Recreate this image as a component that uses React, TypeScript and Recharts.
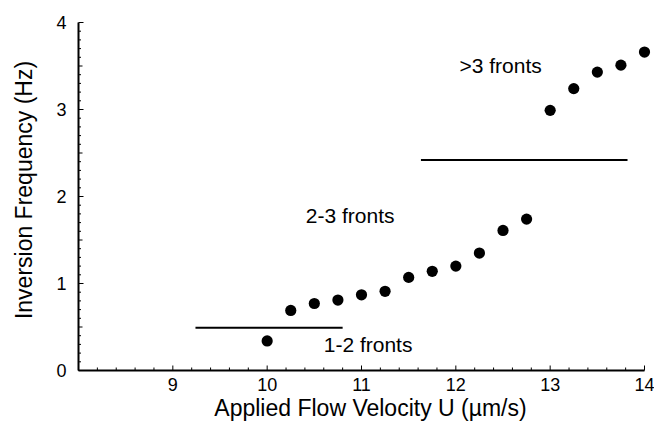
import React from "react";
import { ScatterChart, Scatter, XAxis, YAxis, ReferenceLine } from "recharts";

// applied flow velocity U (um/s) and inversion frequency (Hz)
const velocities = [10, 10.25, 10.5, 10.75, 11, 11.25, 11.5, 11.75, 12, 12.25, 12.5, 12.75, 13, 13.25, 13.5, 13.75, 14];
const frequencies = [0.34, 0.69, 0.77, 0.81, 0.87, 0.91, 1.07, 1.14, 1.2, 1.35, 1.61, 1.74, 2.99, 3.24, 3.43, 3.51, 3.66];

// regime boundaries: [x start, x end, y]
const boundaryLow = [9.24, 10.8, 0.49];
const boundaryHigh = [11.63, 13.82, 2.42];

const regimeLabels = ["1-2 fronts", "2-3 fronts", ">3 fronts"];
const regimeX = [11.07, 10.88, 12.475];
const regimeY = [0.29, 1.78, 3.5];

const xTickLabels = [9, 10, 11, 12, 13, 14];
const yTickLabels = [0, 1, 2, 3, 4];

const FONT = '"Liberation Sans", Arial, Helvetica, sans-serif';

const steps = (from: number, to: number, step: number) => {
  const out: number[] = [];
  for (let i = 0; from + i * step <= to + 1e-9; i++) out.push(Math.round((from + i * step) * 100) / 100);
  return out;
};

const xTicks = steps(8, 14, 0.2);
const yTicks = steps(0, 4, 0.1);

const points = velocities.map((x, i) => ({ x, y: frequencies[i] }));
const notes = regimeLabels.map((text, i) => ({ x: regimeX[i], y: regimeY[i], text }));

const XTick = (props: any) => {
  const { x, y, payload } = props;
  const v = payload.value;
  const major = xTickLabels.includes(v);
  return (
    <g>
      <line x1={x} x2={x} y1={y} y2={y - (major ? 5 : 3)} stroke="#000" strokeWidth={1} />
      {major && (
        <text x={x} y={y + 20.5} textAnchor="middle" fontSize={18} fontFamily={FONT} fill="#000">
          {v}
        </text>
      )}
    </g>
  );
};

const YTick = (props: any) => {
  const { x, y, payload } = props;
  const v = payload.value;
  const major = yTickLabels.includes(v);
  const half = Math.abs(v * 2 - Math.round(v * 2)) < 1e-6;
  const len = major ? 5 : half ? 4 : 2.5;
  return (
    <g>
      <line x1={x} x2={x + len} y1={y} y2={y} stroke="#000" strokeWidth={1} />
      {major && (
        <text x={x - 12} y={y + 6.5} textAnchor="end" fontSize={18} fontFamily={FONT} fill="#000">
          {v}
        </text>
      )}
    </g>
  );
};

const Dot = (props: any) => <circle cx={props.cx} cy={props.cy} r={5.6} fill="#000" />;

const Note = (props: any) => (
  <text x={props.cx} y={props.cy + 7} textAnchor="middle" fontSize={21} fontFamily={FONT} fill="#000">
    {props.payload.text}
  </text>
);

export default function App() {
  return (
    <div style={{ position: "absolute", left: 0, top: 0, width: 654, height: 428, background: "#fff" }}>
      <ScatterChart width={654} height={428} margin={{ top: 22.5, right: 9.5, bottom: 0, left: 0 }}>
        <XAxis
          type="number"
          dataKey="x"
          domain={[8, 14]}
          ticks={xTicks}
          interval={0}
          tick={<XTick />}
          tickLine={false}
          tickSize={0}
          tickMargin={0}
          height={57.5}
          axisLine={{ stroke: "#000", strokeWidth: 2 }}
          label={(p: any) => (
            <text
              x={p.viewBox.x + p.viewBox.width / 2 + 9}
              y={416}
              textAnchor="middle"
              fontSize={23}
              fontFamily={FONT}
              fill="#000"
            >
              Applied Flow Velocity U (µm/s)
            </text>
          )}
        />
        <YAxis
          type="number"
          dataKey="y"
          domain={[0, 4]}
          ticks={yTicks}
          interval={0}
          tick={<YTick />}
          tickLine={false}
          tickSize={0}
          tickMargin={0}
          width={78.5}
          axisLine={{ stroke: "#000", strokeWidth: 2 }}
          label={() => (
            <text
              x={32}
              y={190}
              transform="rotate(-90, 32, 190)"
              textAnchor="middle"
              fontSize={23}
              fontFamily={FONT}
              fill="#000"
            >
              Inversion Frequency (Hz)
            </text>
          )}
        />
        <ReferenceLine
          segment={[{ x: boundaryLow[0], y: boundaryLow[2] }, { x: boundaryLow[1], y: boundaryLow[2] }]}
          stroke="#000"
          strokeWidth={2}
        />
        <ReferenceLine
          segment={[{ x: boundaryHigh[0], y: boundaryHigh[2] }, { x: boundaryHigh[1], y: boundaryHigh[2] }]}
          stroke="#000"
          strokeWidth={2}
        />
        <Scatter data={points} shape={<Dot />} isAnimationActive={false} />
        <Scatter data={notes} shape={<Note />} isAnimationActive={false} />
      </ScatterChart>
    </div>
  );
}
